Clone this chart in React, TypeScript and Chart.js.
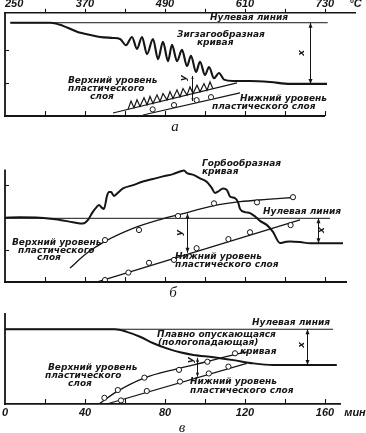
import { useEffect, useRef } from 'react';
import { Chart, registerables } from 'chart.js';

Chart.register(...registerables);

type P = [number, number];
type Note = { text: string; x: number; y: number; rot?: boolean; cap?: boolean };
type Arrow = { x: number; y1: number; y2: number; head: number };

const INK = '#151515';

// ===== Panel а : temperature scale, °C =====
const aTempTicks = [250, 310, 370, 430, 490, 550, 610, 670, 730];
const aTempLabels = ['250', '', '370', '', '490', '', '610', '', '730'];
const aUnitLabel = '°C';
const aLevelTicks = [10, 20];
const aZeroLine: P[] = [[258, 28.2], [734, 28.2]];
const aZigzagCurve: P[] = [
  [258, 28.2], [318, 28.2], [332.5, 27.6], [358, 25.5], [377.5, 24.5], [392.5, 23.9], [412, 23.6],
  [422.5, 23.3], [431.5, 21.4], [440.5, 23.9], [448, 20.3], [455.5, 23.9], [463, 18.7], [472, 23.3],
  [479.5, 17.2], [487, 22.4], [494.5, 16.6], [500.5, 21.5], [508, 16.6], [515.5, 20.0], [523, 15.1],
  [529, 18.2], [536.5, 13.3], [542.5, 16.4], [550, 12.4], [556, 14.8], [563.5, 11.4], [571, 13.0],
  [578.5, 11.0], [592, 10.6], [617.5, 10.6], [647.5, 10.3], [677.5, 9.7], [733, 9.7],
];
const aUpperLine: P[] = [[412, 0.9], [598, 10.0]];
const aUpperTeeth: P[] = [
  [434.5, 2.0], [439, 4.5], [443.5, 2.5], [448, 4.9], [452.5, 2.9], [458.5, 5.5], [463, 3.4],
  [467.5, 5.9], [472, 3.8], [478, 6.4], [482.5, 4.4], [487, 6.8], [493, 4.9], [497.5, 7.4],
  [502, 5.3], [508, 7.9], [512.5, 5.8], [517, 8.3], [523, 6.3], [527.5, 8.8], [532, 6.8],
  [538, 9.3], [542.5, 7.3], [548.5, 9.8], [553, 7.8], [557.5, 10.3], [562, 8.2],
];
const aLowerLine: P[] = [[457, 0.3], [602.5, 7.0]];
const aLowerPoints: P[] = [[471.5, 2.0], [503.5, 3.3], [537.5, 4.8], [559, 5.7]];

// ===== Panel б : time =====
const bTimeTicks = [20, 40, 60, 80, 100, 120, 140, 160];
const bLevelTicks = [10, 20, 30];
const bZeroLine: P[] = [[0, 19.6], [162.5, 19.6]];
const bHumpCurve: P[] = [
  [0, 19.8], [7.5, 19.9], [17.5, 19.8], [27.5, 19.1], [34, 18.4], [39, 18.0], [41.5, 19.1],
  [43.5, 21.2], [46, 23.2], [47, 23.7], [48.5, 22.8], [49.5, 22.5], [51, 26.5], [52, 27.7],
  [53, 27.7], [54.5, 26.5], [56, 27.2], [59, 28.8], [64, 29.8], [69, 30.9], [74, 31.7],
  [79, 32.5], [84, 33.2], [87.5, 34.0], [89.5, 34.3], [91, 33.5], [94.5, 32.9], [97.5, 31.9],
  [101, 30.8], [103.5, 28.8], [105, 27.4], [107, 28.0], [109, 28.8], [111, 28.3], [112.5, 26.3],
  [115, 25.8], [116.5, 24.6], [117.5, 22.5], [120, 21.5], [122.5, 21.2], [125, 20.2], [127.5, 18.8],
  [131, 17.5], [134, 15.4], [137.5, 12.0], [140, 12.3], [142.5, 12.5], [147.5, 12.3], [152.5, 11.9],
  [157.5, 11.9], [169, 11.9],
];
const bUpperCurve: P[] = [
  [32.5, 4.3], [41, 8.9], [50, 12.5], [64, 16.5], [77.5, 19.2], [87.5, 20.8], [104, 23.4],
  [117.5, 24.7], [131, 25.4], [144, 26.0],
];
const bUpperPoints: P[] = [[50, 12.9], [67, 16.0], [86.5, 20.3], [104.5, 24.2], [126, 24.5], [144, 26.1]];
const bLowerLine: P[] = [[46.6, 0.1], [147.5, 19.1]];
const bLowerPoints: P[] = [
  [50, 0.6], [61.7, 2.9], [72, 5.9], [84.5, 6.8], [95.8, 10.4], [111.7, 13.2], [122.5, 15.3], [142.8, 17.5],
];

// ===== Panel в : time, min =====
const vTimeTicks = [0, 20, 40, 60, 80, 100, 120, 140, 160];
const vTimeLabels = ['0', '', '40', '', '80', '', '120', '', '160'];
const vUnitLabel = 'мин';
const vZeroLine: P[] = [[0, 23.0], [164, 23.0]];
const vFallingCurve: P[] = [
  [0, 23.0], [55, 23.0], [60.9, 22.2], [67.5, 20.7], [74.2, 18.7], [80.9, 17.1], [87.5, 15.9],
  [94.2, 15.1], [104.2, 14.4], [114.2, 13.5], [124.2, 12.5], [134.2, 12.0], [165.9, 12.0],
];
const vUpperCurve: P[] = [
  [47.5, 0.2], [55.9, 3.8], [69.2, 7.9], [85.9, 10.8], [100.9, 13.0], [114.2, 15.1], [121.7, 16.1],
];
const vUpperPoints: P[] = [[49.7, 1.9], [56.4, 4.3], [69.7, 8.1], [87, 10.5], [101.2, 13.0], [115, 15.6]];
const vLowerLine: P[] = [[50.9, 0], [120.9, 12.5]];
const vLowerPoints: P[] = [[58, 1.1], [70.9, 4.0], [87.5, 6.9], [101.9, 9.4], [111.7, 11.5]];

// ===== annotations (placed in data coordinates) =====
const aNotes: Note[] = [
  { text: 'Нулевая линия', x: 557.5, y: 29.7 },
  { text: 'Зигзагообразная', x: 508, y: 24.5 },
  { text: 'кривая', x: 538, y: 22.1 },
  { text: 'Верхний уровень', x: 344.5, y: 10.6 },
  { text: 'пластического', x: 344.5, y: 8.2 },
  { text: 'слоя', x: 377.5, y: 5.8 },
  { text: 'Нижний уровень', x: 602.5, y: 5.2 },
  { text: 'пластического слоя', x: 560.5, y: 2.7 },
  { text: 'у', x: 518.5, y: 11.5, rot: true },
  { text: 'х', x: 695.5, y: 19.1, rot: true },
  { text: 'а', x: 505, y: -3.3, cap: true },
];
const aArrows: Arrow[] = [
  { x: 707.5, y1: 28.2, y2: 9.7, head: 5 },
  { x: 530.5, y1: 12.1, y2: 4.5, head: 3 },
];
const bNotes: Note[] = [
  { text: 'Горбообразная', x: 98.5, y: 36.3 },
  { text: 'кривая', x: 98.5, y: 33.8 },
  { text: 'Нулевая линия', x: 129, y: 21.5 },
  { text: 'Верхний уровень', x: 3.5, y: 12.0 },
  { text: 'пластического', x: 6.5, y: 9.5 },
  { text: 'слоя', x: 16, y: 7.4 },
  { text: 'Нижний уровень', x: 85, y: 7.7 },
  { text: 'пластического слоя', x: 85, y: 5.2 },
  { text: 'у', x: 87.5, y: 15.1, rot: true },
  { text: 'х', x: 158.5, y: 16, rot: true },
  { text: 'б', x: 84, y: -3.4, cap: true },
];
const bArrows: Arrow[] = [
  { x: 91, y1: 21.1, y2: 9.0, head: 5 },
  { x: 156.7, y1: 19.6, y2: 11.9, head: 5 },
];
const vNotes: Note[] = [
  { text: 'Нулевая линия', x: 123.5, y: 24.9 },
  { text: 'Плавно опускающаяся', x: 76, y: 21.2 },
  { text: '(пологопадающая)', x: 76.5, y: 18.8 },
  { text: 'кривая', x: 117.5, y: 16.0 },
  { text: 'Верхний уровень', x: 21.5, y: 11.1 },
  { text: 'пластического', x: 20, y: 8.6 },
  { text: 'слоя', x: 31.5, y: 6.2 },
  { text: 'Нижний уровень', x: 92.5, y: 6.8 },
  { text: 'пластического слоя', x: 92.5, y: 4.0 },
  { text: 'у', x: 93, y: 13.5, rot: true },
  { text: 'х', x: 148.5, y: 18.2, rot: true },
  { text: 'в', x: 88.5, y: -7.4, cap: true },
];
const vArrows: Arrow[] = [
  { x: 95.8, y1: 14.2, y2: 8.4, head: 4 },
  { x: 150.8, y1: 23.0, y2: 12.0, head: 5 },
];

const NOTE_FONT = 'italic bold 9px "DejaVu Sans"';
const CAP_FONT = 'italic 15px "Liberation Serif"';
const TICK_FONT = { family: 'Liberation Sans', style: 'italic' as const, weight: 'bold' as const, size: 11 };

const pts = (a: P[]) => a.map(([x, y]) => ({ x, y }));
function curve(a: P[], width: number, smooth = false) {
  return {
    data: pts(a), borderColor: INK, borderWidth: width, pointRadius: 0, fill: false,
    clip: false, tension: 0, cubicInterpolationMode: smooth ? 'monotone' : 'default',
  };
}
function dots(a: P[]) {
  return {
    data: pts(a), showLine: false, pointRadius: 2.6, pointBorderWidth: 1,
    pointBackgroundColor: '#ffffff', pointBorderColor: INK, clip: false,
  };
}

interface Overlay {
  leftTicks: number[];
  bottomTicks: number[];
  bottomEnd: number | null;
  notes: Note[];
  arrows: Arrow[];
}

function overlayPlugin(spec: Overlay) {
  return {
    id: 'overlay',
    afterDraw(chart: any) {
      const { ctx, chartArea } = chart;
      const X = (v: number) => chart.scales.x.getPixelForValue(v);
      const Y = (v: number) => chart.scales.y.getPixelForValue(v);
      ctx.save();
      ctx.strokeStyle = INK;
      ctx.fillStyle = INK;
      // left axis
      ctx.lineWidth = 1.8;
      ctx.beginPath();
      ctx.moveTo(chartArea.left, chartArea.top);
      ctx.lineTo(chartArea.left, chartArea.bottom + 0.9);
      ctx.stroke();
      if (spec.bottomEnd !== null) {
        ctx.beginPath();
        ctx.moveTo(chartArea.left - 0.9, chartArea.bottom);
        ctx.lineTo(X(spec.bottomEnd), chartArea.bottom);
        ctx.stroke();
      }
      ctx.lineWidth = 1.1;
      for (const v of spec.bottomTicks) {
        const x = Math.round(X(v)) + 0.5;
        ctx.beginPath();
        ctx.moveTo(x, chartArea.bottom);
        ctx.lineTo(x, chartArea.bottom - 5);
        ctx.stroke();
      }
      for (const v of spec.leftTicks) {
        const y = Math.round(Y(v)) + 0.5;
        ctx.beginPath();
        ctx.moveTo(chartArea.left, y);
        ctx.lineTo(chartArea.left + 4, y);
        ctx.stroke();
      }
      // arrows
      for (const a of spec.arrows) {
        const x = Math.round(X(a.x)) + 0.5;
        const p1 = Y(a.y1);
        const p2 = Y(a.y2);
        const dir = p2 > p1 ? 1 : -1;
        ctx.lineWidth = 1;
        ctx.beginPath();
        ctx.moveTo(x, p1);
        ctx.lineTo(x, p2);
        ctx.stroke();
        const tri = (y: number, d: number) => {
          ctx.beginPath();
          ctx.moveTo(x, y);
          ctx.lineTo(x - a.head * 0.4, y - d * a.head);
          ctx.lineTo(x + a.head * 0.4, y - d * a.head);
          ctx.closePath();
          ctx.fill();
        };
        tri(p1, -dir);
        tri(p2, dir);
      }
      // notes
      ctx.textBaseline = 'middle';
      for (const n of spec.notes) {
        const x = X(n.x);
        const y = Y(n.y);
        if (n.cap) {
          ctx.font = CAP_FONT;
          ctx.textAlign = 'center';
          ctx.fillText(n.text, x, y);
        } else if (n.rot) {
          ctx.save();
          ctx.font = NOTE_FONT;
          ctx.textAlign = 'center';
          ctx.translate(x, y);
          ctx.rotate(-Math.PI / 2);
          ctx.fillText(n.text, 0, 0);
          ctx.restore();
        } else {
          ctx.font = NOTE_FONT;
          ctx.textAlign = 'left';
          ctx.fillText(n.text, x, y);
        }
      }
      ctx.restore();
    },
  };
}

const baseOptions = (padding: any, xScale: any, yMax: number) => ({
  responsive: false,
  animation: false,
  devicePixelRatio: 1,
  events: [],
  layout: { padding },
  plugins: { legend: { display: false }, tooltip: { enabled: false }, title: { display: false } },
  scales: {
    x: xScale,
    y: { type: 'linear', display: false, min: 0, max: yMax },
  },
});

const zeroPad = (s: any) => { s.paddingLeft = 0; s.paddingRight = 0; };

function configA(): any {
  return {
    type: 'line',
    data: {
      datasets: [
        dots(aLowerPoints),
        curve(aZeroLine, 1),
        curve(aZigzagCurve, 2.1, true),
        curve(aUpperTeeth, 1.2),
        curve(aUpperLine, 1.2),
        curve(aLowerLine, 1.2),
      ],
    },
    options: baseOptions(
      { left: 5, right: 11, top: 0, bottom: 19 },
      {
        type: 'linear', position: 'top', min: 250, max: 775,
        afterBuildTicks: (s: any) => { s.ticks = [...aTempTicks, 785].map((v) => ({ value: v })); },
        afterFit: zeroPad,
        ticks: {
          autoSkip: false, maxRotation: 0, align: 'inner', padding: 0, color: INK,
          font: { ...TICK_FONT, lineHeight: 0.8 },
          callback: (_v: any, i: number) => (i < aTempLabels.length ? aTempLabels[i] : aUnitLabel),
        },
        grid: {
          display: true, drawOnChartArea: false, drawTicks: true, tickLength: 4, tickWidth: 1.1,
          tickColor: (c: any) => (c.tick && c.tick.value > 250 && c.tick.value <= 730 ? INK : 'rgba(0,0,0,0)'),
        },
        border: { display: true, color: INK, width: 1.6 },
      },
      31.2,
    ),
    plugins: [overlayPlugin({
      leftTicks: aLevelTicks, bottomTicks: aTempTicks.slice(1), bottomEnd: 730, notes: aNotes, arrows: aArrows,
    })],
  };
}

function configB(): any {
  return {
    type: 'line',
    data: {
      datasets: [
        dots(bUpperPoints),
        dots(bLowerPoints),
        curve(bZeroLine, 1),
        curve(bHumpCurve, 2, true),
        curve(bUpperCurve, 1.3, true),
        curve(bLowerLine, 1.3),
      ],
    },
    options: baseOptions(
      { left: 5, right: 19, top: 29.55, bottom: 18 },
      { type: 'linear', display: false, min: 0, max: 171 },
      34.6,
    ),
    plugins: [overlayPlugin({
      leftTicks: bLevelTicks, bottomTicks: bTimeTicks, bottomEnd: 171, notes: bNotes, arrows: bArrows,
    })],
  };
}

function configV(): any {
  return {
    type: 'line',
    data: {
      datasets: [
        dots(vUpperPoints),
        dots(vLowerPoints),
        curve(vZeroLine, 1),
        curve(vFallingCurve, 2, true),
        curve(vUpperCurve, 1.3, true),
        curve(vLowerLine, 1.3),
      ],
    },
    options: baseOptions(
      { left: 5, right: 26, top: 13, bottom: 11 },
      {
        type: 'linear', position: 'bottom', min: 0, max: 167.5,
        afterBuildTicks: (s: any) => { s.ticks = [...vTimeTicks, 175].map((v) => ({ value: v })); },
        afterFit: zeroPad,
        ticks: {
          autoSkip: false, maxRotation: 0, padding: 3.5, color: INK,
          font: { ...TICK_FONT, lineHeight: 1 },
          callback: (_v: any, i: number) => (i < vTimeLabels.length ? vTimeLabels[i] : vUnitLabel),
        },
        grid: { display: true, drawOnChartArea: false, drawTicks: false },
        border: { display: true, color: INK, width: 1.8 },
      },
      28,
    ),
    plugins: [overlayPlugin({
      leftTicks: [], bottomTicks: vTimeTicks.slice(1), bottomEnd: null, notes: vNotes, arrows: vArrows,
    })],
  };
}

function Panel({ top, height, build }: { top: number; height: number; build: () => any }) {
  const ref = useRef<HTMLCanvasElement>(null);
  useEffect(() => {
    const chart = new Chart(ref.current as HTMLCanvasElement, build());
    return () => chart.destroy();
  }, []);
  return (
    <canvas
      ref={ref}
      width={366}
      height={height}
      style={{ position: 'absolute', left: 0, top, width: 366, height, display: 'block' }}
    />
  );
}

export default function App() {
  return (
    <div style={{ position: 'absolute', left: 0, top: 0, width: 366, height: 433, background: '#ffffff', overflow: 'hidden' }}>
      <Panel top={0} height={135} build={configA} />
      <Panel top={140} height={160} build={configB} />
      <Panel top={300} height={133} build={configV} />
    </div>
  );
}
